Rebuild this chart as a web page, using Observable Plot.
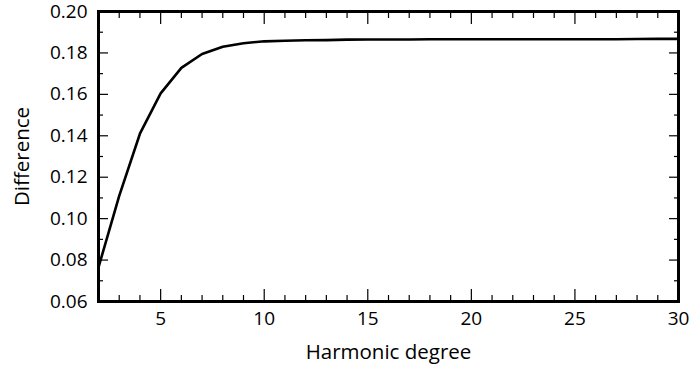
<!DOCTYPE html>
<html><head><meta charset="utf-8">
<script src="https://cdn.jsdelivr.net/npm/d3@7"></script>
<script src="https://cdn.jsdelivr.net/npm/@observablehq/plot@0.6"></script>
<style>body{margin:0;background:#fff;} svg{font-family:"Open Sans",sans-serif;}</style>
</head><body><div id="chart"></div>
<script>
const degree = [2,3,4,5,6,7,8,9,10,11,12,13,14,15,16,17,18,19,20,21,22,23,24,25,26,27,28,29,30];
const difference = [0.0765,0.111,0.141,0.1605,0.1728,0.1795,0.183,0.1847,0.1856,0.1859,0.1861,0.1862,0.1864,0.1865,0.1865,0.1865,0.1866,0.1866,0.1866,0.1866,0.1866,0.1866,0.1866,0.1866,0.1866,0.1866,0.1867,0.1868,0.1868];
const xMajor = [5,10,15,20,25,30];
const xMinor = [3,4,6,7,8,9,11,12,13,14,16,17,18,19,21,22,23,24,26,27,28,29];
const yMajor = [0.06,0.08,0.10,0.12,0.14,0.16,0.18,0.20];
const yMinor = [0.07,0.09,0.11,0.13,0.15,0.17,0.19];
const xLabel = "Harmonic degree";
const yLabel = "Difference";

const data = degree.map((d,i)=>({degree:d, difference:difference[i]}));
const blank = () => "";
const fs = 19;
const ls = 20.5;
const chart = Plot.plot({
  width: 693, height: 372,
  marginLeft: 98, marginRight: 15, marginTop: 11, marginBottom: 71,
  style: {fontSize: fs + "px", fontFamily: "'Open Sans', sans-serif", color: "#000"},
  x: {domain: [2, 30]},
  y: {domain: [0.06, 0.20]},
  marks: [
    Plot.line(data, {x: "degree", y: "difference", stroke: "#000", strokeWidth: 2.6}),
    // inward ticks
    Plot.axisX(xMajor, {anchor: "bottom", tickSize: -12, tickFormat: blank, label: null, strokeWidth: 1.2}),
    Plot.axisX(xMinor, {anchor: "bottom", tickSize: -6, tickFormat: blank, label: null, strokeWidth: 1.2}),
    Plot.axisX(xMajor, {anchor: "top", tickSize: -12, tickFormat: blank, label: null, strokeWidth: 1.2}),
    Plot.axisX(xMinor, {anchor: "top", tickSize: -6, tickFormat: blank, label: null, strokeWidth: 1.2}),
    Plot.axisY(yMajor, {anchor: "left", tickSize: -10, tickFormat: blank, label: null, strokeWidth: 1.2}),
    Plot.axisY(yMinor, {anchor: "left", tickSize: -5, tickFormat: blank, label: null, strokeWidth: 1.2}),
    Plot.axisY(yMajor, {anchor: "right", tickSize: -10, tickFormat: blank, label: null, strokeWidth: 1.2}),
    Plot.axisY(yMinor, {anchor: "right", tickSize: -5, tickFormat: blank, label: null, strokeWidth: 1.2}),
    // labels
    Plot.axisX(xMajor, {anchor: "bottom", tickSize: 0, tickPadding: 10, tickFormat: d => String(d), label: null, fontSize: fs, fill: "#000"}),
    Plot.axisY(yMajor, {anchor: "left", tickSize: 0, tickPadding: 11, tickFormat: d => d.toFixed(2), label: null, fontSize: fs, fill: "#000"}),
    Plot.text([xLabel], {frameAnchor: "bottom", dy: 57, fontSize: ls, fill: "#000"}),
    Plot.text([yLabel], {frameAnchor: "left", textAnchor: "middle", dx: -76, rotate: -90, fontSize: ls, fill: "#000"}),
    Plot.frame({stroke: "#000", strokeWidth: 3})
  ]
});
document.getElementById("chart").append(chart);
</script>
</body></html>
